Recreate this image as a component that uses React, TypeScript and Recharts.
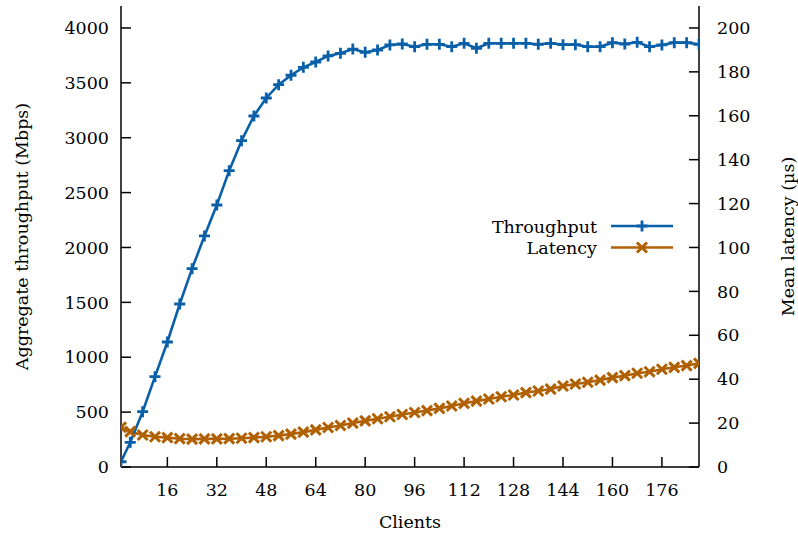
import React from 'react';
import { LineChart, Line, XAxis, YAxis } from 'recharts';

const clients = [
  1, 4, 8, 12, 16, 20, 24, 28, 32, 36, 40, 44, 48, 52, 56, 60, 64, 68, 72, 76, 80, 84, 88, 92,
  96, 100, 104, 108, 112, 116, 120, 124, 128, 132, 136, 140, 144, 148, 152, 156, 160, 164, 168,
  172, 176, 180, 184, 188,
];

const throughput = [
  48, 225, 504, 823, 1139, 1485, 1807, 2105, 2387, 2700, 2973, 3198, 3362, 3483, 3569, 3641,
  3690, 3745, 3769, 3808, 3778, 3799, 3845, 3854, 3829, 3851, 3851, 3829, 3860, 3815, 3860,
  3860, 3860, 3860, 3851, 3860, 3848, 3848, 3829, 3829, 3866, 3854, 3869, 3829, 3845, 3866,
  3866, 3851,
];

const latency = [
  18.1, 16.1, 14.6, 13.8, 13.4, 12.9, 12.7, 12.8, 12.8, 12.9, 13.1, 13.4, 13.8, 14.3, 15.0,
  15.9, 16.9, 18.0, 18.9, 20.0, 21.0, 22.0, 22.9, 23.9, 24.8, 25.7, 26.7, 27.8, 29.0, 30.0,
  31.0, 32.0, 32.8, 33.9, 34.6, 35.5, 36.9, 37.8, 38.6, 39.6, 40.7, 41.6, 42.7, 43.4, 44.5,
  45.4, 46.2, 47.2,
];

const xTicks = [16, 32, 48, 64, 80, 96, 112, 128, 144, 160, 176];
const leftTicks = [0, 500, 1000, 1500, 2000, 2500, 3000, 3500, 4000];
const rightTicks = [0, 20, 40, 60, 80, 100, 120, 140, 160, 180, 200];

const data = clients.map((c, i) => ({ clients: c, throughput: throughput[i], latency: latency[i] }));

const BLUE = '#0a60a8';
const ORANGE = '#b06000';
// only serif face available in the sandbox
const FONT = '"DejaVu Serif", serif';
const FS = 17.5;
const tickStyle = { fill: '#000', fontSize: FS, fontFamily: FONT };
const titleStyle = { textAnchor: 'middle' as const, fill: '#000', fontSize: FS, fontFamily: FONT };

const PlusDot = (props: any) => {
  const { cx, cy, index } = props;
  if (cx == null || cy == null) return null;
  return (
    <path key={`p-${index}`} d={`M${cx - 5.5},${cy}h11M${cx},${cy - 5.5}v11`} stroke={BLUE} strokeWidth={2.8} fill="none" />
  );
};

const CrossDot = (props: any) => {
  const { cx, cy, index } = props;
  if (cx == null || cy == null) return null;
  return (
    <path key={`x-${index}`} d={`M${cx - 5},${cy - 5}l10,10M${cx - 5},${cy + 5}l10,-10`} stroke={ORANGE} strokeWidth={3} fill="none" />
  );
};

const App = () => {
  return (
    <div style={{ position: 'absolute', left: 0, top: 0, width: 798, height: 535, background: '#fff', fontFamily: FONT }}>
      <LineChart width={798} height={535} data={data} margin={{ top: 6, right: 0, bottom: 0, left: 0 }}>
        <XAxis
          dataKey="clients"
          type="number"
          domain={[1, 188]}
          ticks={xTicks}
          allowDataOverflow
          height={68}
          tickSize={-10}
          tickMargin={27}
          stroke="#000"
          strokeWidth={1.5}
          tick={tickStyle}
          label={{ value: 'Clients', position: 'insideBottom', offset: 7, style: titleStyle }}
        />
        <XAxis
          xAxisId="top"
          orientation="top"
          type="number"
          domain={[1, 188]}
          ticks={xTicks}
          allowDataOverflow
          height={0}
          tickSize={-10}
          tick={false}
          stroke="#000"
          strokeWidth={1.5}
        />
        <YAxis
          yAxisId="left"
          domain={[0, 4200]}
          ticks={leftTicks}
          allowDataOverflow
          width={121}
          tickSize={-10}
          tickMargin={22}
          stroke="#000"
          strokeWidth={1.5}
          tick={tickStyle}
          label={{ value: 'Aggregate throughput (Mbps)', angle: -90, position: 'insideLeft', offset: 22, style: titleStyle }}
        />
        <YAxis
          yAxisId="right"
          orientation="right"
          domain={[0, 210]}
          ticks={rightTicks}
          allowDataOverflow
          width={99}
          tickSize={-10}
          tickMargin={28}
          stroke="#000"
          strokeWidth={1.5}
          tick={tickStyle}
          label={{ value: 'Mean latency (µs)', angle: -90, position: 'insideRight', offset: 10, style: titleStyle }}
        />
        <Line
          yAxisId="right"
          dataKey="latency"
          type="linear"
          stroke={ORANGE}
          strokeWidth={2.6}
          dot={CrossDot}
          activeDot={false}
          isAnimationActive={false}
        />
        <Line
          yAxisId="left"
          dataKey="throughput"
          type="linear"
          stroke={BLUE}
          strokeWidth={2.6}
          dot={PlusDot}
          activeDot={false}
          isAnimationActive={false}
        />
      </LineChart>
      <svg width={798} height={535} style={{ position: 'absolute', left: 0, top: 0, pointerEvents: 'none' }}>
        <text x={597} y={233} textAnchor="end" fontSize={FS} fontFamily={FONT} fill="#000">Throughput</text>
        <line x1={611} x2={673} y1={226} y2={226} stroke={BLUE} strokeWidth={2.6} />
        <path d="M636.5,226h11M642,220.5v11" stroke={BLUE} strokeWidth={2.8} />
        <text x={597} y={254} textAnchor="end" fontSize={FS} fontFamily={FONT} fill="#000">Latency</text>
        <line x1={611} x2={673} y1={247.5} y2={247.5} stroke={ORANGE} strokeWidth={2.6} />
        <path d="M637,242.5l10,10M637,252.5l10,-10" stroke={ORANGE} strokeWidth={3} />
      </svg>
    </div>
  );
};

export default App;
